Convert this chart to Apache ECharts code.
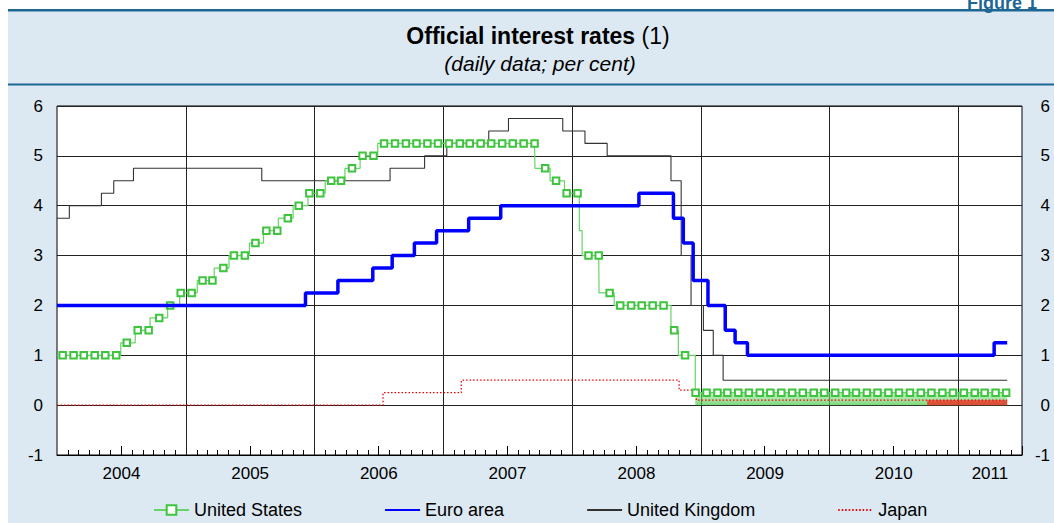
<!DOCTYPE html>
<html>
<head>
<meta charset="utf-8">
<title>Official interest rates</title>
<script src="https://cdn.jsdelivr.net/npm/echarts@6/dist/echarts.min.js"></script>
<style>
  html, body { margin: 0; padding: 0; background: #fff; }
  #wrap { position: relative; width: 1054px; height: 523px; }
  #bg { position: absolute; left: 8px; top: 10px; right: 0; bottom: 0; background: #dce9f2; }
  #chart { position: absolute; left: 0; top: 0; width: 1054px; height: 523px; }
</style>
</head>
<body>
<div id="wrap">
  <div id="bg"></div>
  <div id="chart"></div>
</div>
<script>
// policy rates: [date the rate took effect, per cent]
const usRate = [
  ['2004-01-01', 1.00], ['2004-06-30', 1.25], ['2004-08-10', 1.50], ['2004-09-21', 1.75],
  ['2004-11-10', 2.00], ['2004-12-14', 2.25], ['2005-02-02', 2.50], ['2005-03-22', 2.75],
  ['2005-05-03', 3.00], ['2005-06-30', 3.25], ['2005-08-09', 3.50], ['2005-09-20', 3.75],
  ['2005-11-01', 4.00], ['2005-12-13', 4.25], ['2006-01-31', 4.50], ['2006-03-28', 4.75],
  ['2006-05-10', 5.00], ['2006-06-29', 5.25], ['2007-09-18', 4.75], ['2007-10-31', 4.50],
  ['2007-12-11', 4.25], ['2008-01-22', 3.50], ['2008-01-30', 3.00], ['2008-03-18', 2.25],
  ['2008-04-30', 2.00], ['2008-10-08', 1.50], ['2008-10-29', 1.00], ['2008-12-16', 0.25],
  ['2011-05-20', 0.25]
]
const euroRate = [
  ['2004-01-01', 2.00], ['2005-12-06', 2.25], ['2006-03-08', 2.50], ['2006-06-15', 2.75],
  ['2006-08-09', 3.00], ['2006-10-11', 3.25], ['2006-12-13', 3.50], ['2007-03-14', 3.75],
  ['2007-06-13', 4.00], ['2008-07-09', 4.25], ['2008-10-15', 3.75], ['2008-11-12', 3.25],
  ['2008-12-10', 2.50], ['2009-01-21', 2.00], ['2009-03-11', 1.50], ['2009-04-08', 1.25],
  ['2009-05-13', 1.00], ['2011-04-13', 1.25], ['2011-05-20', 1.25]
]
const ukRate = [
  ['2004-01-01', 3.75], ['2004-02-05', 4.00], ['2004-05-06', 4.25], ['2004-06-10', 4.50],
  ['2004-08-05', 4.75], ['2005-08-04', 4.50], ['2006-08-03', 4.75], ['2006-11-09', 5.00],
  ['2007-01-11', 5.25], ['2007-05-10', 5.50], ['2007-07-05', 5.75], ['2007-12-06', 5.50],
  ['2008-02-07', 5.25], ['2008-04-10', 5.00], ['2008-10-08', 4.50], ['2008-11-06', 3.00],
  ['2008-12-04', 2.00], ['2009-01-08', 1.50], ['2009-02-05', 1.00], ['2009-03-05', 0.50],
  ['2011-05-20', 0.50]
]
const japanRate = [
  ['2004-01-01', 0.00], ['2006-07-14', 0.25], ['2007-02-21', 0.50], ['2008-10-31', 0.30],
  ['2008-12-19', 0.10], ['2011-05-20', 0.10]
]
// target ranges, shaded down to zero
const usRange = [['2008-12-16', 0.25], ['2011-05-20', 0.25]]
const japanRange = [['2010-10-05', 0.10], ['2011-05-20', 0.10]]

const yearLabels = ['2004', '2005', '2006', '2007', '2008', '2009', '2010', '2011']
const yearLabelDates = ['2004-07-02', '2005-07-02', '2006-07-02', '2007-07-02',
  '2008-07-02', '2009-07-02', '2010-07-02', '2011-04-01']
const axisStart = '2004-01-01'
const axisEnd = '2011-07-01'

const t = s => +new Date(s + 'T00:00:00')
const toPts = arr => arr.map(d => [t(d[0]), d[1]])

// tick positions
const monthTicks = []
const midYearTicks = []
const yearTicks = []
for (let y = 2004; y <= 2011; y++) {
  for (let m = 1; m <= 12; m++) {
    const ts = new Date(y, m - 1, 1).getTime()
    if (ts > t(axisEnd)) break
    if (m === 1) { if (y > 2004) yearTicks.push(ts) }
    else if (m === 7) midYearTicks.push(ts)
    else monthTicks.push(ts)
  }
}
const labelTimes = yearLabelDates.map(t)

// US markers roughly monthly, value read from the rate in force
function rateOn(arr, ts) {
  let v = arr[0][1]
  for (const d of arr) if (t(d[0]) <= ts) v = d[1]
  return v
}
const usData = usRate.map(d => ({ value: [t(d[0]), d[1]], symbol: 'none' }))
for (let y = 2004; y <= 2011; y++) {
  for (let m = 1; m <= 12; m++) {
    const ts = new Date(y, m - 1, 17).getTime()
    if (ts > t('2011-05-20')) break
    usData.push({ value: [ts, rateOn(usRate, ts)] })
  }
}
usData.sort((a, b) => a.value[0] - b.value[0])

const chart = echarts.init(document.getElementById('chart'), null, { renderer: 'svg' })
const font = 'Liberation Sans, Arial, sans-serif'
const plotH = 523 - 106 - 68

const baseX = {
  type: 'value',
  min: t(axisStart),
  max: t(axisEnd),
  position: 'bottom',
  splitLine: { show: false },
  axisLine: { show: false, onZero: false },
  axisLabel: { show: false },
  axisTick: { show: false }
}
const noSymbol = { opacity: 0 }

chart.setOption({
  animation: false,
  textStyle: { fontFamily: font },
  graphic: [
    { type: 'rect', shape: { x: 8, y: 9, width: 1046, height: 2.5 }, style: { fill: '#1f6793' } },
    { type: 'rect', shape: { x: 8, y: 83.5, width: 1046, height: 2 }, style: { fill: '#1f6793' } },
    {
      type: 'text', x: 967, y: 12,
      style: { text: 'Figure 1', fontFamily: font, fontWeight: 'bold', fontSize: 18,
        fill: '#1f6793', textAlign: 'left', textVerticalAlign: 'bottom' }
    },
    {
      type: 'text', x: 538, y: 36,
      style: {
        text: '{b|Official interest rates} (1)',
        fontFamily: font, fontSize: 23, fill: '#000',
        textAlign: 'center', textVerticalAlign: 'middle',
        rich: { b: { fontWeight: 'bold', fontSize: 23, fontFamily: font } }
      }
    },
    {
      type: 'text', x: 540, y: 63,
      style: { text: '(daily data; per cent)', fontFamily: font, fontSize: 21, fontStyle: 'italic',
        fill: '#000', textAlign: 'center', textVerticalAlign: 'middle' }
    }
  ],
  grid: {
    left: 57, right: 32, top: 106, bottom: 68,
    outerBoundsMode: 'none', containLabel: false,
    show: true, backgroundColor: '#fff', borderColor: '#000', borderWidth: 1
  },
  legend: {
    data: [
      { name: 'United States' },
      { name: 'Euro area', itemStyle: noSymbol },
      { name: 'United Kingdom', itemStyle: noSymbol },
      { name: 'Japan', itemStyle: noSymbol }
    ],
    left: 153, top: 501, padding: 0,
    itemGap: 82, itemWidth: 35, itemHeight: 12,
    textStyle: { fontSize: 18, color: '#000', fontFamily: font }
  },
  xAxis: [
    Object.assign({}, baseX, {
      axisLine: { show: true, onZero: false, lineStyle: { color: '#000', width: 1 } },
      axisTick: { show: true, inside: true, length: 5, customValues: monthTicks,
        lineStyle: { color: '#000', width: 1 } }
    }),
    Object.assign({}, baseX, {
      axisTick: { show: true, inside: true, length: 9, customValues: midYearTicks,
        lineStyle: { color: '#000', width: 1 } },
      axisLabel: {
        show: true, customValues: labelTimes, margin: 10, fontSize: 17, color: '#000',
        showMinLabel: true, showMaxLabel: true,
        formatter: v => yearLabels[labelTimes.indexOf(v)]
      }
    }),
    Object.assign({}, baseX, {
      axisTick: { show: true, inside: true, length: plotH, customValues: yearTicks,
        lineStyle: { color: '#222', width: 1 } }
    })
  ],
  yAxis: [
    {
      type: 'value', min: -1, max: 6, interval: 1, position: 'left',
      axisLine: { show: false }, axisTick: { show: false },
      axisLabel: { fontSize: 17, color: '#000', margin: 14 },
      splitLine: { show: true, lineStyle: { color: '#222', width: 1 } }
    },
    {
      type: 'value', min: -1, max: 6, interval: 1, position: 'right',
      axisLine: { show: false }, axisTick: { show: false },
      axisLabel: { fontSize: 17, color: '#000', margin: 28, align: 'right' },
      splitLine: { show: false }
    }
  ],
  series: [
    {
      name: 'US target range', type: 'line', step: 'end', data: toPts(usRange),
      symbol: 'none', silent: true, z: 1,
      lineStyle: { width: 0 },
      areaStyle: {
        opacity: 1,
        color: new echarts.graphic.LinearGradient(0, 0, 0, 1, [
          { offset: 0, color: 'rgba(150,228,150,0.55)' },
          { offset: 1, color: 'rgba(70,200,70,0.7)' }
        ])
      }
    },
    {
      name: 'Japan target range', type: 'line', step: 'end', data: toPts(japanRange),
      symbol: 'none', silent: true, z: 1,
      lineStyle: { width: 0 },
      areaStyle: { opacity: 1, color: 'rgba(255,20,20,0.7)' }
    },
    {
      name: 'Japan', type: 'line', step: 'end', data: toPts(japanRate),
      symbol: 'none', z: 3,
      lineStyle: { color: '#ee0000', width: 1.3, type: [1.5, 2] },
      itemStyle: { color: '#ee0000' }
    },
    {
      name: 'United Kingdom', type: 'line', step: 'end', data: toPts(ukRate),
      symbol: 'none', z: 3,
      lineStyle: { color: '#333', width: 1.1 },
      itemStyle: { color: '#333' }
    },
    {
      name: 'United States', type: 'line', step: 'end', data: usData,
      symbol: 'emptyRect', symbolSize: 6.5, z: 4,
      lineStyle: { color: '#66d466', width: 1.2 },
      itemStyle: { color: '#3ec43e', borderWidth: 1 }
    },
    {
      name: 'Euro area', type: 'line', step: 'end', data: toPts(euroRate),
      symbol: 'none', z: 5,
      lineStyle: { color: '#0000ff', width: 3.5 },
      itemStyle: { color: '#0000ff' }
    }
  ]
})
</script>
</body>
</html>
